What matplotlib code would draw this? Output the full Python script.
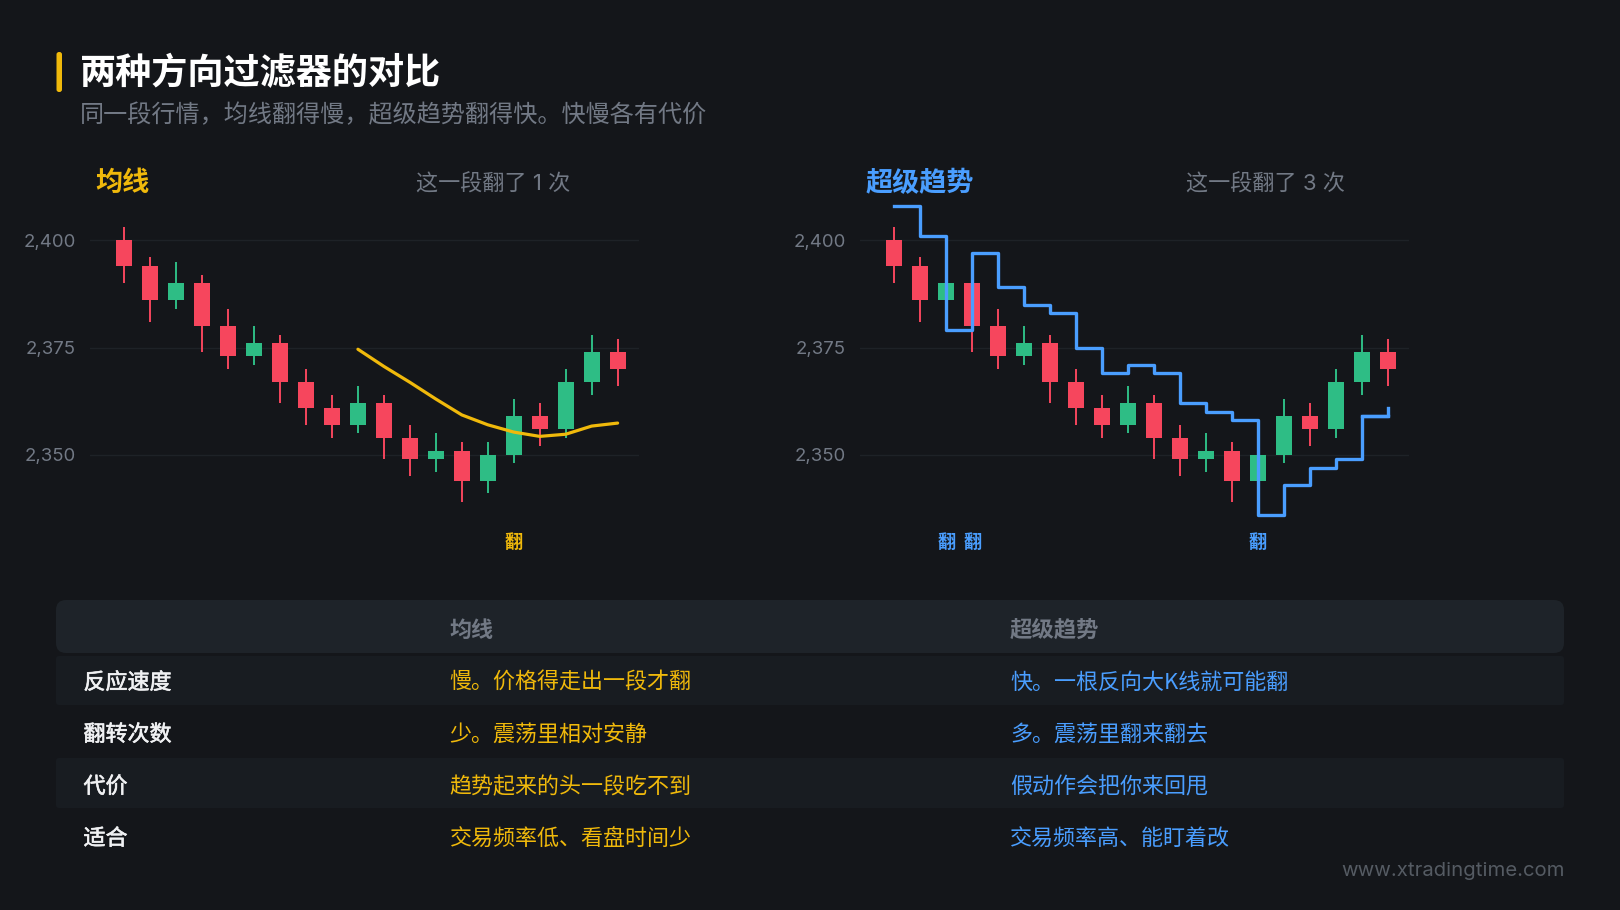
import matplotlib
matplotlib.use("Agg")
import matplotlib.pyplot as plt
import matplotlib.patheffects as pe
from matplotlib.patches import FancyBboxPatch
from matplotlib.ticker import FuncFormatter

plt.rcParams['font.family'] = ['Noto Sans CJK SC', 'DejaVu Sans']

# candles
opens = [2400, 2394, 2386, 2390, 2380, 2373, 2376, 2367, 2361, 2357,
         2362, 2354, 2349, 2351, 2344, 2350, 2359, 2356, 2367, 2374]
closes = [2394, 2386, 2390, 2380, 2373, 2376, 2367, 2361, 2357, 2362,
          2354, 2349, 2351, 2344, 2350, 2359, 2356, 2367, 2374, 2370]
highs = [2403, 2396, 2395, 2392, 2384, 2380, 2378, 2370, 2364, 2366,
         2364, 2357, 2355, 2353, 2353, 2363, 2362, 2370, 2378, 2377]
lows = [2390, 2381, 2384, 2374, 2370, 2371, 2362, 2357, 2354, 2355,
        2349, 2345, 2346, 2339, 2341, 2348, 2352, 2354, 2364, 2366]

ma_start = 9
ma_values = [2374.6, 2370.6, 2366.9, 2363.0, 2359.3, 2357.0,
             2355.3, 2354.3, 2354.8, 2356.7, 2357.4]
supertrend = [2408, 2401, 2379, 2397, 2389, 2385, 2383, 2375, 2369, 2371,
              2369, 2362, 2360, 2358, 2336, 2343, 2347, 2349, 2359, 2361]

ma_flips = [15]
st_flips = [2, 3, 14]
price_ticks = [2350, 2375, 2400]

row_names = ['反应速度', '翻转次数', '代价', '适合']
ma_cells = ['慢。价格得走出一段才翻', '少。震荡里相对安静', '趋势起来的头一段吃不到', '交易频率低、看盘时间少']
st_cells = ['快。一根反向大K线就可能翻', '多。震荡里翻来翻去', '假动作会把你来回甩', '交易频率高、能盯着改']

BG = '#14161a'
GOLD = '#f0b90b'
BLUE = '#4a9eff'
RED = '#f6465d'
GREEN = '#2ebd85'
GREY = '#727985'
W, H = 1620, 910


def draw_candles(ax):
    for i in range(len(opens)):
        color = GREEN if closes[i] >= opens[i] else RED
        ax.vlines(i, lows[i], highs[i], color=color, lw=1.4, zorder=2)
        ax.bar(i, abs(closes[i] - opens[i]), bottom=min(opens[i], closes[i]),
               width=0.615, color=color, zorder=2)


def make_axes(fig, left):
    # pixel box of one panel, limits picked so the candles land on their spots
    ax = fig.add_axes([left / W, 1 - 560 / H, 549 / W, 370 / H])
    ax.patch.set_alpha(0)
    ax.set_xlim((90 - 124.2) / 25.97, (639 - 124.2) / 25.97)
    ax.set_ylim(2325.5, 2411.7)
    ax.set_yticks(price_ticks)
    ax.yaxis.set_major_formatter(FuncFormatter(lambda v, p: f'{int(v):,}'))
    ax.tick_params(axis='y', length=0, pad=10, labelcolor=GREY, labelsize=13.4)
    for t in ax.get_yticklabels():
        t.set_family(['Inter', 'DejaVu Sans'])
    ax.set_xticks([])
    ax.grid(axis='y', color='#1e2227', lw=1)
    ax.set_axisbelow(True)
    for s in ax.spines.values():
        s.set_visible(False)
    return ax


fig = plt.figure(figsize=(16.2, 9.1), dpi=100, facecolor=BG)

# page layer in pixel coordinates
page = fig.add_axes([0, 0, 1, 1])
page.set_xlim(0, W)
page.set_ylim(H, 0)
page.axis('off')


def box(x0, y0, x1, y1, color, r):
    page.add_patch(FancyBboxPatch((x0, y0), x1 - x0, y1 - y0, mutation_aspect=1,
                                  boxstyle=f'round,pad=0,rounding_size={r}',
                                  fc=color, ec='none'))


def label(x, y, s, size, color, weight='normal', ha='left', **kw):
    return page.text(x, y, s, fontsize=size, color=color, fontweight=weight,
                     ha=ha, va='center', **kw)


box(56.5, 52, 62, 92, GOLD, 2.5)
label(80, 74, '两种方向过滤器的对比', 26, '#ffffff', 'bold')
label(80, 115, '同一段行情，均线翻得慢，超级趋势翻得快。快慢各有代价', 17.33, GREY)

mixed = ['Inter', 'Noto Sans CJK SC']
label(95.5, 183, '均线', 19.5, GOLD, 'bold')
label(416.5, 183.5, '这一段翻了 1 次', 15.9, GREY, family=mixed)
label(865.5, 183, '超级趋势', 19.5, BLUE, 'bold')
label(1186, 183.5, '这一段翻了 3 次', 15.9, GREY, family=mixed)

# table
box(56, 600, 1564, 653, '#1e2329', 10)
box(56, 656, 1564, 705, '#181c21', 3)
box(56, 758, 1564, 808, '#181c21', 3)
label(449.5, 630, '均线', 15.85, GREY, 'bold')
label(1010, 630, '超级趋势', 16.1, GREY, 'bold')
row_y = [683, 735, 787, 839]
for y, name, a, b in zip(row_y, row_names, ma_cells, st_cells):
    # regular with a thin outline stands in for the medium weight
    t = label(83.5, y, name, 15.85, '#f0f1f3')
    t.set_path_effects([pe.withStroke(linewidth=0.45, foreground='#f0f1f3')])
    label(449.5, y, a, 15.85, GOLD)
    label(1010, y, b, 15.85, BLUE)
label(1564.5, 871, 'www.xtradingtime.com', 14.6, '#555b63', ha='right',
      family=['Inter', 'DejaVu Sans'])

# left panel
ax1 = make_axes(fig, 90)
draw_candles(ax1)
ax1.plot(range(ma_start, ma_start + len(ma_values)), ma_values,
         color=GOLD, lw=2.3, zorder=3, solid_capstyle='round')
for i in ma_flips:
    ax1.text(i, 2329.6, '翻', color=GOLD, fontsize=13, fontweight='bold',
             ha='center', va='center')

# right panel
ax2 = make_axes(fig, 860)
draw_candles(ax2)
ax2.step(range(len(supertrend)), supertrend, where='post', color=BLUE, lw=2.4, zorder=3)
ax2.plot([len(supertrend) - 2, len(supertrend) - 1], [supertrend[-2]] * 2, color=BLUE, lw=2.4, zorder=3)
for i in st_flips:
    ax2.text(i, 2329.6, '翻', color=BLUE, fontsize=13, fontweight='bold',
             ha='center', va='center')

fig.savefig('out.png', dpi=100, facecolor=BG)
